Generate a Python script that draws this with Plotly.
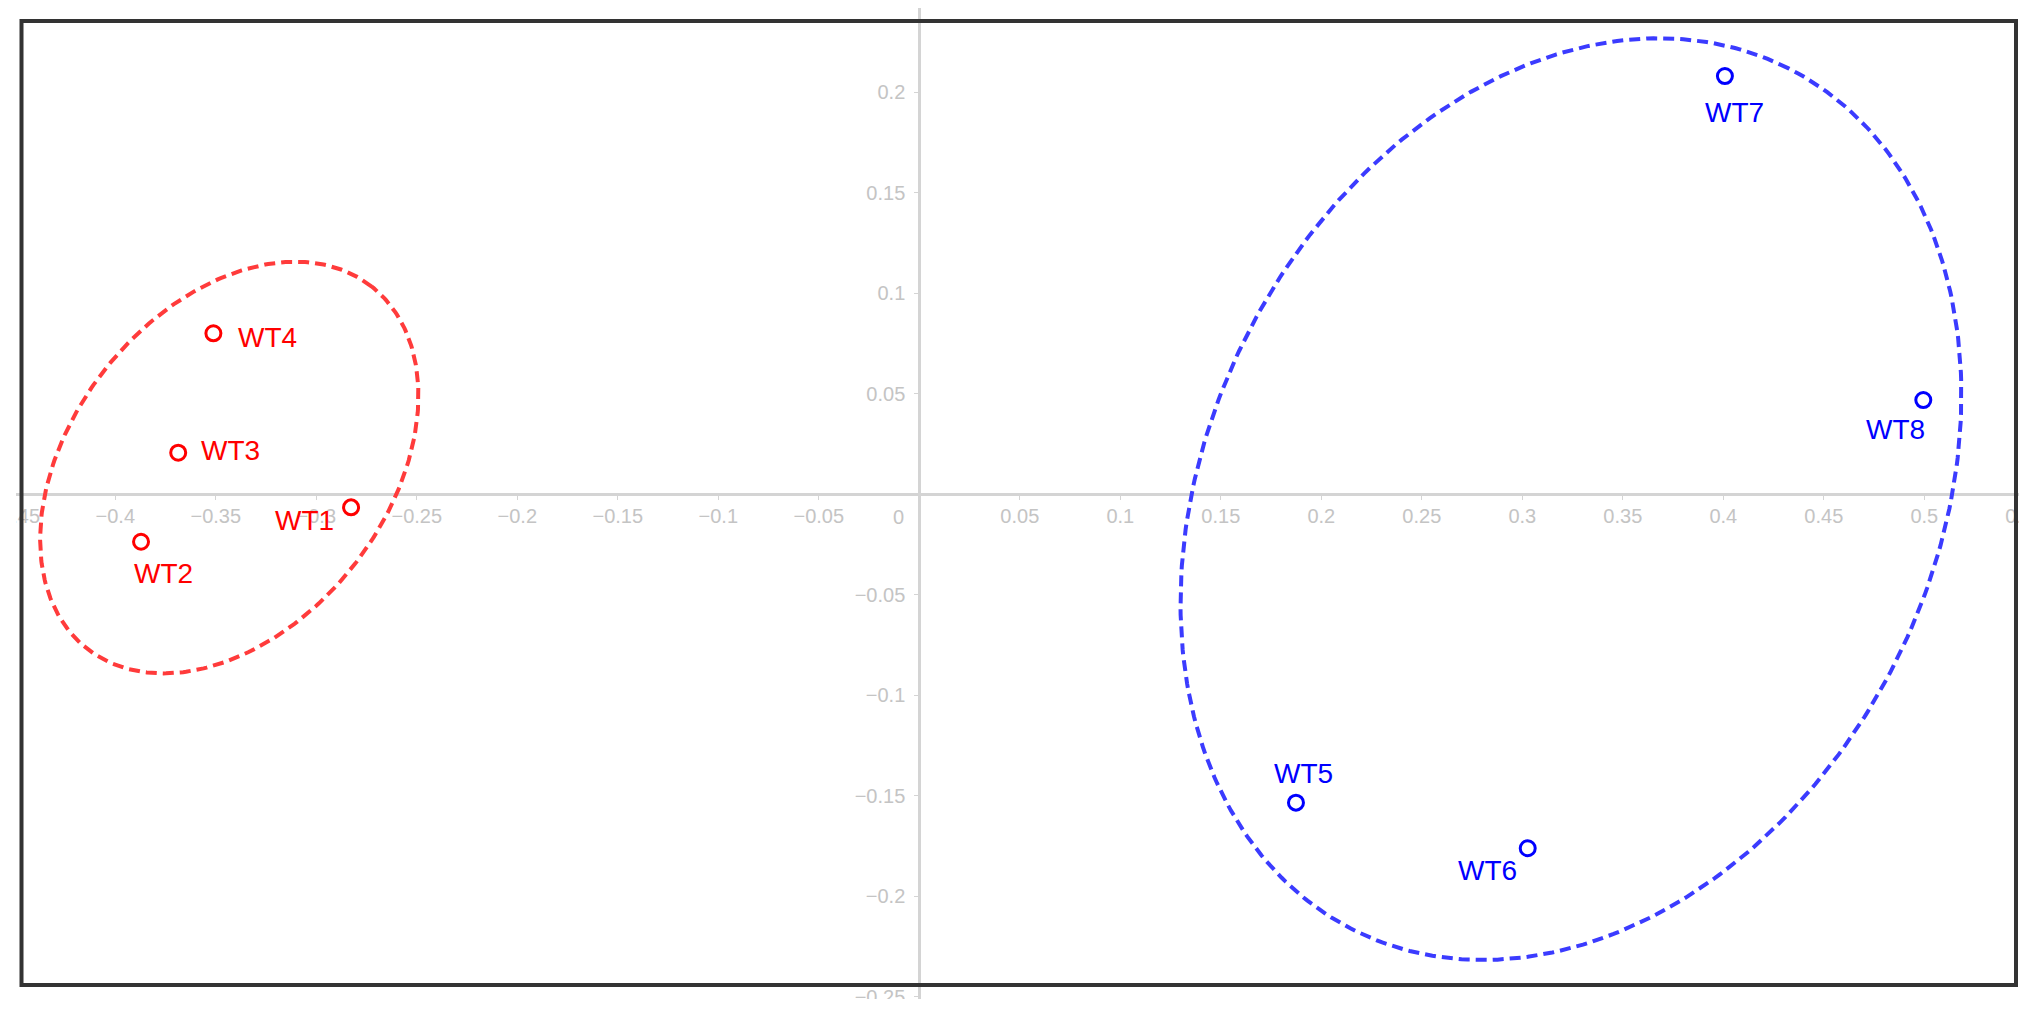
import numpy as np
import plotly.graph_objects as go

# puntos (coordenadas)
nombres = ['WT1', 'WT2', 'WT3', 'WT4', 'WT5', 'WT6', 'WT7', 'WT8']
eje_x = [-0.2827, -0.3872, -0.3687, -0.3512, 0.1874, 0.3027, 0.4008, 0.4995]
eje_y = [-0.0065, -0.0236, 0.0207, 0.0801, -0.1534, -0.1761, 0.2081, 0.0469]
grupo = ['rojo', 'rojo', 'rojo', 'rojo', 'azul', 'azul', 'azul', 'azul']

# elipses: centro x, centro y, semieje mayor, semieje menor, angulo (grados)
elipse_roja = [-0.3433, 0.0133, 0.1146, 0.0788, 51.8]
elipse_azul = [0.3242, -0.0024, 0.2401, 0.1807, 63.2]

# marcas de los ejes
ticks_x = [-0.45, -0.4, -0.35, -0.3, -0.25, -0.2, -0.15, -0.1, -0.05,
           0.05, 0.1, 0.15, 0.2, 0.25, 0.3, 0.35, 0.4, 0.45, 0.5, 0.55]
etiquetas_x = ['−0.45', '−0.4', '−0.35', '−0.3', '−0.25', '−0.2', '−0.15', '−0.1', '−0.05',
               '0.05', '0.1', '0.15', '0.2', '0.25', '0.3', '0.35', '0.4', '0.45', '0.5', '0.55']
ticks_y = [-0.25, -0.2, -0.15, -0.1, -0.05, 0.05, 0.1, 0.15, 0.2]
etiquetas_y = ['−0.25', '−0.2', '−0.15', '−0.1', '−0.05', '0.05', '0.1', '0.15', '0.2']

# desplazamiento de cada etiqueta respecto a su punto (px)
desplazamientos = {
    'WT1': (-47, 13), 'WT2': (22, 32), 'WT3': (52, -2), 'WT4': (54, 4),
    'WT5': (8, -29), 'WT6': (-40, 22), 'WT7': (10, 36), 'WT8': (-28, 29),
}
colores = {'rojo': '#ff0000', 'azul': '#0000ff'}
colores_elipse = {'rojo': '#ff3b3b', 'azul': '#3b3bff'}

# Lienzo y escala (misma escala en ambos ejes)
OFF = 8  # margen del body de la pagina
W, H = 2035 - 2 * OFF, 1010 - 2 * OFF
m_t, m_b = 0, H - (999 - OFF)
escala = 2010.0  # px por unidad
x0_px, y0_px = 919.3 - OFF, 494.3 - OFF
rango_x = [(0 - x0_px) / escala, (W - x0_px) / escala]
rango_y = [(y0_px - (H - m_b)) / escala, (y0_px - m_t) / escala]
alto_plot = H - m_t - m_b


def px_a_papel(px, py):
    # coordenadas de la pagina -> papel
    return (px - OFF) / W, 1 - (py - OFF - m_t) / alto_plot


def puntos_elipse(par):
    cx, cy, a, b, ang = par
    t = np.linspace(0, 2 * np.pi, 400)
    th = np.radians(ang)
    xs = cx + a * np.cos(t) * np.cos(th) - b * np.sin(t) * np.sin(th)
    ys = cy + a * np.cos(t) * np.sin(th) + b * np.sin(t) * np.cos(th)
    return xs, ys


fig = go.Figure()

for g, par in [('rojo', elipse_roja), ('azul', elipse_azul)]:
    ex, ey = puntos_elipse(par)
    fig.add_trace(go.Scatter(
        x=ex, y=ey, mode='lines',
        line=dict(color=colores_elipse[g], width=4, dash='11px,6px'),
        hoverinfo='skip', showlegend=False
    ))

for g in ['rojo', 'azul']:
    idx = [i for i in range(len(nombres)) if grupo[i] == g]
    fig.add_trace(go.Scatter(
        x=[eje_x[i] for i in idx], y=[eje_y[i] for i in idx],
        mode='markers', text=[nombres[i] for i in idx],
        marker=dict(symbol='circle-open', size=15, color=colores[g],
                    line=dict(width=3, color=colores[g])),
        showlegend=False
    ))

for i, n in enumerate(nombres):
    dx, dy = desplazamientos[n]
    fig.add_annotation(
        x=eje_x[i], y=eje_y[i], text=n, showarrow=False,
        xanchor='center', yanchor='middle', xshift=dx, yshift=-dy,
        font=dict(family='Liberation Sans, Arial, sans-serif', size=28, color=colores[grupo[i]])
    )

# etiqueta del origen
fig.add_annotation(
    x=0, y=0, text='0', showarrow=False, xanchor='center', yanchor='middle',
    xshift=-21, yshift=-23,
    font=dict(family='Liberation Sans, Arial, sans-serif', size=20, color='#c4c4c4')
)

pos_eje_x = (0 - rango_y[0]) / (rango_y[1] - rango_y[0])
pos_eje_y = (0 - rango_x[0]) / (rango_x[1] - rango_x[0])

ejes = dict(
    showgrid=False, zeroline=True, zerolinecolor='#d4d4d4', zerolinewidth=2.5,
    showline=False, ticks='outside', ticklen=5, tickwidth=1, tickcolor='#d4d4d4',
    tickfont=dict(family='Liberation Sans, Arial, sans-serif', size=20, color='#c4c4c4'),
    tickmode='array', anchor='free', fixedrange=True, ticklabeloverflow='allow',
    automargin=False
)

fig.update_layout(
    width=W, height=H,
    margin=dict(l=0, r=0, t=m_t, b=m_b, autoexpand=False),
    paper_bgcolor='white', plot_bgcolor='white',
    xaxis=dict(ejes, range=rango_x, tickvals=ticks_x, ticktext=etiquetas_x,
               position=pos_eje_x, ticklabelstandoff=-1),
    yaxis=dict(ejes, range=rango_y, tickvals=ticks_y, ticktext=etiquetas_y,
               position=pos_eje_y, ticklabelstandoff=5),
)

# tapar lo que queda fuera del marco
for (a, b, c, d) in [(-10, -50, 16, 1100), (2019, -50, 2100, 1100), (-10, 999, 2100, 1100)]:
    xa, ya = px_a_papel(a, b)
    xb, yb = px_a_papel(c, d)
    fig.add_shape(type='rect', xref='paper', yref='paper', x0=xa, x1=xb, y0=yb, y1=ya,
                  fillcolor='white', line=dict(width=0), layer='above')

# marco
fx0, fy0 = px_a_papel(21.5, 21)
fx1, fy1 = px_a_papel(2016, 985)
fig.add_shape(type='rect', xref='paper', yref='paper', x0=fx0, x1=fx1, y0=fy1, y1=fy0,
              line=dict(color='#333333', width=4), fillcolor='rgba(0,0,0,0)', layer='above')

fig.write_html("out.html")
